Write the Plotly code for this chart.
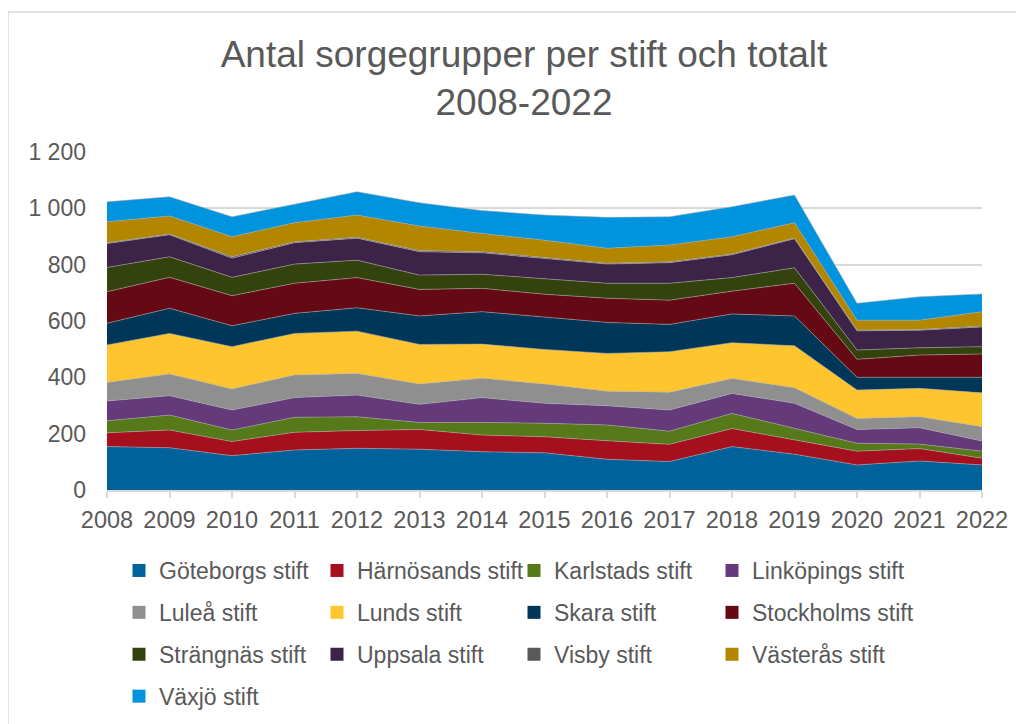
import plotly.graph_objects as go

years = [2008, 2009, 2010, 2011, 2012, 2013, 2014, 2015, 2016, 2017, 2018, 2019, 2020, 2021, 2022]
year_labels = [str(y) for y in years]

goteborg   = [154, 150, 122, 142, 148, 145, 136, 132, 109, 101, 154, 127, 89, 103, 89]
harnosand  = [49, 63, 50, 63, 63, 70, 59, 57, 66, 61, 64, 50, 49, 44, 24]
karlstad   = [43, 53, 41, 53, 49, 25, 45, 48, 56, 47, 54, 42, 28, 16, 25]
linkoping  = [70, 69, 71, 70, 77, 64, 88, 71, 68, 75, 71, 89, 49, 58, 36]
lulea      = [66, 77, 75, 80, 77, 72, 69, 68, 52, 63, 53, 55, 39, 39, 51]
lund       = [133, 144, 150, 148, 150, 141, 121, 123, 134, 144, 127, 149, 101, 101, 120]
skara      = [77, 89, 74, 71, 83, 101, 115, 116, 110, 97, 102, 106, 45, 39, 55]
stockholm  = [112, 110, 107, 107, 107, 94, 83, 80, 86, 86, 81, 116, 64, 79, 83]
strangnas  = [86, 73, 65, 68, 62, 51, 50, 54, 53, 60, 48, 55, 33, 26, 26]
uppsala    = [85, 78, 68, 76, 78, 83, 76, 73, 68, 73, 81, 103, 68, 62, 70]
visby      = [3, 3, 5, 3, 3, 4, 4, 4, 3, 3, 3, 3, 3, 3, 3]
vasteras   = [74, 64, 71, 68, 79, 87, 65, 61, 53, 60, 61, 54, 35, 33, 51]
vaxjo      = [71, 68, 71, 66, 83, 83, 81, 89, 110, 100, 107, 98, 60, 83, 63]

names = ["Göteborgs stift", "Härnösands stift", "Karlstads stift", "Linköpings stift",
         "Luleå stift", "Lunds stift", "Skara stift", "Stockholms stift",
         "Strängnäs stift", "Uppsala stift", "Visby stift", "Västerås stift",
         "Växjö stift"]
series = [goteborg, harnosand, karlstad, linkoping, lulea, lund, skara, stockholm,
          strangnas, uppsala, visby, vasteras, vaxjo]
colors = ["#00629B", "#A6101E", "#567A1A", "#643A7A", "#8F8F8F", "#FFC52E",
          "#003657", "#650A14", "#34430E", "#3C2347", "#595959", "#B38600",
          "#0094DE"]

fig = go.Figure()

for name, vals, col in zip(names, series, colors):
    fig.add_trace(go.Scatter(
        x=years, y=vals, name=name, stackgroup="one", mode="lines",
        line=dict(width=0.6, color="rgba(170,170,170,0.9)"),
        fillcolor=col, showlegend=False, hoverinfo="x+y+name",
    ))

# legend entries (square swatches), laid out row-major in 4 columns
NCOL = 4
legend_ids = ["legend", "legend2", "legend3", "legend4"]
for i, (name, col) in enumerate(zip(names, colors)):
    fig.add_trace(go.Scatter(
        x=[None], y=[None], name=name, mode="markers",
        marker=dict(symbol="square", size=13, color=col, line=dict(width=0)),
        showlegend=True, legend=legend_ids[i % NCOL], legendgroup=f"g{i}",
    ))

# page has an 8px body margin; target plot area (page coords): x 107..982, y 152..490
OFF = 8
W, H = 1024, 724
L = 107 - OFF
R = W - (982 - OFF)
T = 152 - OFF
B = H - (490 - OFF)
pw, ph = 982 - 107, 490 - 152

def py(y):  # page y -> paper
    return (490 - y) / ph

def px(x):  # page x -> paper
    return (x - 107) / pw

legend_font = dict(family="Liberation Sans, Arial, sans-serif", size=23, color="#595959")
col_x = [119, 317, 514, 712]
legend_common = dict(orientation="v", xanchor="left", yanchor="top",
                     font=legend_font, bgcolor="rgba(0,0,0,0)",
                     itemwidth=30, traceorder="grouped", tracegroupgap=9)

layout_legends = {}
for lid, cx in zip(legend_ids, col_x):
    layout_legends[lid] = dict(legend_common, x=px(cx), y=py(549))

fig.update_layout(
    width=W, height=H,
    margin=dict(l=L, r=R, t=T, b=B, autoexpand=False),
    paper_bgcolor="white", plot_bgcolor="white",
    separators=", ",
    font=dict(family="Liberation Sans, Arial, sans-serif", color="#595959"),
    title=dict(
        text="Antal sorgegrupper per stift och totalt<br>2008-2022",
        x=px(524), xref="paper", xanchor="center",
        y=1 - 59 / H, yref="container", yanchor="top",
        font=dict(size=37, color="#595959", family="Liberation Sans, Arial, sans-serif"),
    ),
    xaxis=dict(
        range=[years[0], years[-1]], tickmode="array", tickvals=years, ticktext=year_labels,
        showgrid=False, zeroline=False,
        showline=True, linecolor="#d9d9d9", linewidth=1.5,
        ticks="outside", ticklen=6, tickcolor="#d9d9d9", tickwidth=1.5,
        tickfont=dict(size=23.5, color="#595959"),
        ticklabelstandoff=2,
    ),
    yaxis=dict(
        range=[0, 1200], tick0=0, dtick=200, tickformat=",d",
        showgrid=True, gridcolor="#d9d9d9", gridwidth=1.5,
        zeroline=False, showline=False,
        tickfont=dict(size=23, color="#595959"),
        ticklabelstandoff=20,
    ),
    shapes=[dict(type="rect", xref="paper", yref="paper",
                 x0=px(8), x1=px(1040), y0=py(760), y1=py(12),
                 line=dict(color="#d9d9d9", width=1.5), fillcolor="rgba(0,0,0,0)",
                 layer="below")],
    **layout_legends,
)

fig.write_html("out.html")
